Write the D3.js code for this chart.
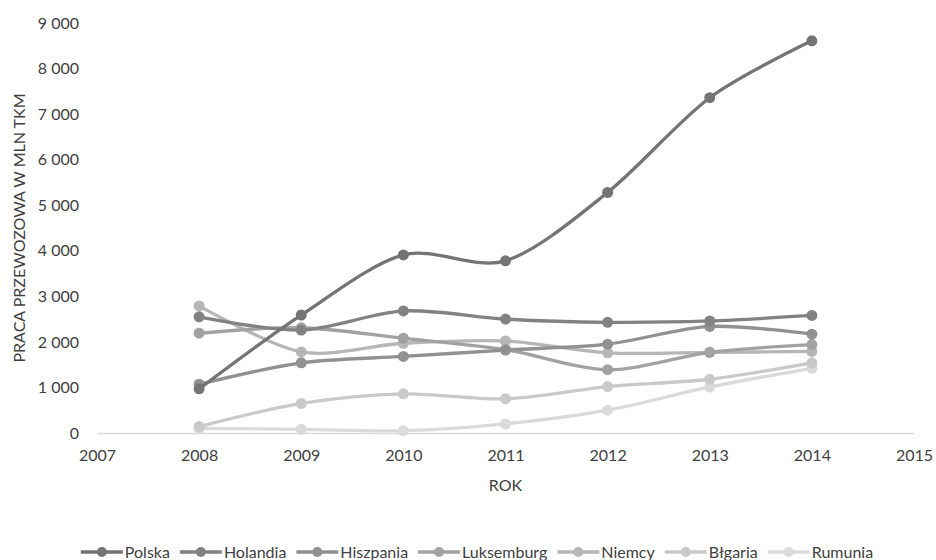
<!DOCTYPE html>
<html>
<head>
<meta charset="utf-8">
<script src="https://cdn.jsdelivr.net/npm/d3@7"></script>
<style>
  body { margin: 0; background: #fff; }
  text { font-family: Lato, "Open Sans", sans-serif; fill: #404040; }
</style>
</head>
<body>
<svg id="chart"></svg>
<script>
var width = 936;
var height = 560;

// data
var years = [2008, 2009, 2010, 2011, 2012, 2013, 2014];
var polska     = [970, 2590, 3910, 3780, 5280, 7360, 8610];
var holandia   = [2550, 2260, 2680, 2500, 2430, 2460, 2580];
var hiszpania  = [1070, 1540, 1680, 1820, 1950, 2340, 2170];
var luksemburg = [2190, 2310, 2080, 1830, 1390, 1770, 1940];
var niemcy     = [2790, 1780, 1970, 2020, 1760, 1770, 1790];
var blugaria   = [140, 650, 860, 750, 1020, 1180, 1540];
var rumunia    = [100, 80, 50, 200, 500, 1010, 1420];

var seriesNames = ["Polska", "Holandia", "Hiszpania", "Luksemburg", "Niemcy", "Błgaria", "Rumunia"];
var seriesValues = [polska, holandia, hiszpania, luksemburg, niemcy, blugaria, rumunia];
var greys = ["#747474", "#828282", "#919191", "#a2a2a2", "#b6b6b6", "#c9c9c9", "#dadada"];

var yTicks = [0, 1000, 2000, 3000, 4000, 5000, 6000, 7000, 8000, 9000];
var xTicks = [2007, 2008, 2009, 2010, 2011, 2012, 2013, 2014, 2015];

var margin = { left: 97, right: 22, top: 23, bottom: 127 };

var svg = d3.select("#chart")
  .attr("width", width)
  .attr("height", height);

var x = d3.scaleLinear()
  .domain([2007, 2015])
  .range([margin.left, width - margin.right]);

var y = d3.scaleLinear()
  .domain([0, 9000])
  .range([height - margin.bottom, margin.top]);

var fmt = function (v) { return d3.format(",")(v).replace(/,/g, " "); };

// y axis labels (no line, no ticks)
var yAxis = svg.append("g")
  .attr("transform", "translate(" + (margin.left - 2) + ",0)")
  .call(d3.axisLeft(y).tickValues(yTicks).tickFormat(fmt).tickSize(0).tickPadding(16));
yAxis.select(".domain").remove();
yAxis.selectAll("text").style("font-size", "16px").style("font-family", "Lato, sans-serif").attr("fill", "#404040");

// x axis
var xAxis = svg.append("g")
  .attr("transform", "translate(0," + y(0) + ")")
  .call(d3.axisBottom(x).tickValues(xTicks).tickFormat(d3.format("d")).tickSize(0).tickPadding(17));
xAxis.select(".domain").attr("stroke", "#d9d9d9").attr("stroke-width", 1.3);
xAxis.selectAll("text").style("font-size", "16px").style("font-family", "Lato, sans-serif").attr("fill", "#404040");

// axis titles
svg.append("text")
  .attr("x", (x.range()[0] + x.range()[1]) / 2)
  .attr("y", 491)
  .attr("text-anchor", "middle")
  .style("font-size", "16px")
  .text("ROK");

svg.append("text")
  .attr("transform", "translate(25," + ((y(0) + y(9000)) / 2) + ") rotate(-90)")
  .attr("text-anchor", "middle")
  .style("font-size", "16px")
  .text("PRACA PRZEWOZOWA W MLN TKM");

var line = d3.line()
  .x(function (d, i) { return x(years[i]); })
  .y(function (d) { return y(d); })
  .curve(d3.curveCardinal.tension(0.1));

// draw light series first so dark ones sit on top
for (var s = seriesValues.length - 1; s >= 0; s--) {
  var g = svg.append("g");
  g.append("path")
    .datum(seriesValues[s])
    .attr("d", line)
    .attr("fill", "none")
    .attr("stroke", greys[s])
    .attr("stroke-width", 3.3)
    .attr("stroke-linecap", "round");
  g.selectAll("circle")
    .data(seriesValues[s])
    .enter().append("circle")
    .attr("cx", function (d, i) { return x(years[i]); })
    .attr("cy", function (d) { return y(d); })
    .attr("r", 5.5)
    .attr("fill", greys[s]);
}

// legend
var legend = svg.append("g");
var lx = 0;
seriesNames.forEach(function (name, i) {
  var it = legend.append("g").attr("transform", "translate(" + lx + ",0)");
  it.append("line")
    .attr("x1", 0).attr("x2", 42)
    .attr("y1", 0).attr("y2", 0)
    .attr("stroke", greys[i]).attr("stroke-width", 3.5);
  it.append("circle").attr("cx", 21).attr("cy", 0).attr("r", 5).attr("fill", greys[i]);
  var t = it.append("text")
    .attr("x", 44).attr("y", 0).attr("dy", "0.35em")
    .style("font-size", "16px")
    .text(name);
  lx += 44 + t.node().getComputedTextLength() + 10;
});
var legendW = lx - 10;
legend.attr("transform", "translate(" + (477 - legendW / 2) + ",552)");
</script>
</body>
</html>
